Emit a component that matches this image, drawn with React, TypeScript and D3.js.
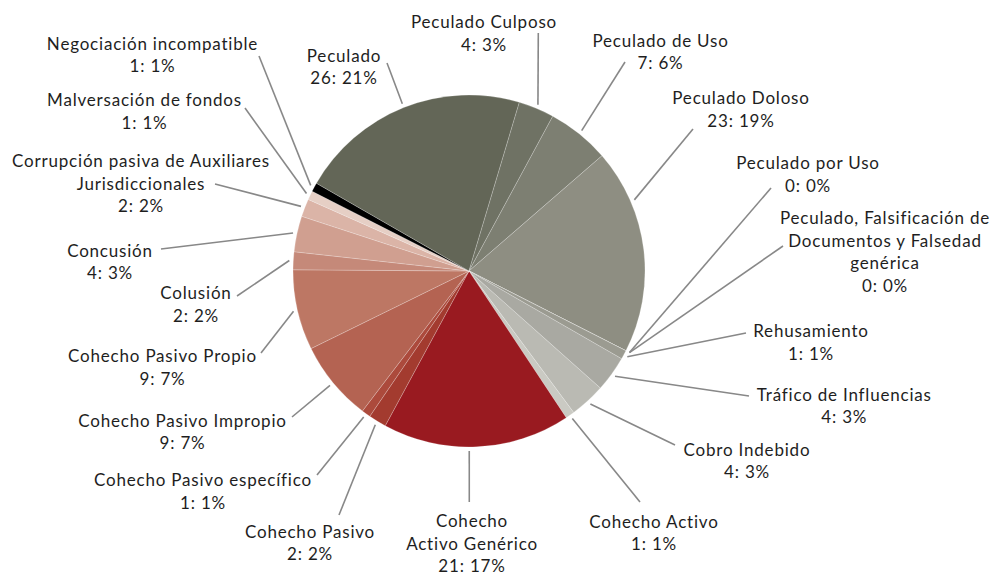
import React from "react";
import * as d3 from "d3";

// ---- data (clockwise order, starting at Cobro Indebido) ----
const categories = [
  "Cobro Indebido",
  "Cohecho Activo",
  "Cohecho Activo Genérico",
  "Cohecho Pasivo",
  "Cohecho Pasivo específico",
  "Cohecho Pasivo Impropio",
  "Cohecho Pasivo Propio",
  "Colusión",
  "Concusión",
  "Corrupción pasiva de Auxiliares Jurisdiccionales",
  "Malversación de fondos",
  "Negociación incompatible",
  "Peculado",
  "Peculado Culposo",
  "Peculado de Uso",
  "Peculado Doloso",
  "Peculado por Uso",
  "Peculado, Falsificación de Documentos y Falsedad genérica",
  "Rehusamiento",
  "Tráfico de Influencias",
];
const counts = [4, 1, 21, 2, 1, 9, 9, 2, 4, 2, 1, 1, 26, 4, 7, 23, 0, 0, 1, 4];

// ---- styling ----
const colors = [
  "#babab3", "#cacac3", "#991a20", "#a33b2f", "#ac4a3c", "#b46352", "#bd7764",
  "#c58979", "#d09f90", "#dbb4a7", "#e6cfc5", "#000000", "#636657", "#6f7264",
  "#7d7f72", "#8e8e82", "#959589", "#98988d", "#9b9b91", "#a9a9a2",
];

// label wrapping
const wraps: Record<string, string[]> = {
  "Cohecho Activo Genérico": ["Cohecho", "Activo Genérico"],
  "Corrupción pasiva de Auxiliares Jurisdiccionales": ["Corrupción pasiva de Auxiliares", "Jurisdiccionales"],
  "Peculado, Falsificación de Documentos y Falsedad genérica": ["Peculado, Falsificación de", "Documentos y Falsedad", "genérica"],
};

// label layout: [textX, firstBaseline, connectorX, connectorY, fraction of slice angle for connector]
const labelLayout: number[][] = [
  [747, 455.7, 675, 445, 0.5],
  [654, 527.7, 640, 502, 0.5],
  [472, 527, 469.3, 502, 0.54],
  [310, 537.7, 339, 515, 0.5],
  [203, 486, 317, 475, 0.5],
  [182.5, 426.7, 292, 417, 0.5],
  [162.5, 362.3, 261, 353, 0.5],
  [196, 299, 237, 296, 0.5],
  [110, 256.7, 161, 249, 0.5],
  [141, 167, 215, 184, 0.5],
  [144.5, 106, 245, 108, 0.5],
  [152.5, 49.5, 259, 56, 0.5],
  [344, 61.7, 387, 63, 0.5],
  [484, 28.3, 538.3, 33, 0.5],
  [660.5, 46.7, 625, 62, 0.5],
  [741, 104, 693, 129, 0.26],
  [808, 169, 771, 188, 0.5],
  [885, 224, 783, 246, 0.5],
  [811, 337.3, 746, 333, 0.5],
  [844.3, 400.7, 749, 396, 0.5],
];

const W = 991;
const H = 575;
const CX = 469;
const CY = 271;
const R = 176;
const START = (131.7 * Math.PI) / 180;
const LINE_H = 22.5;

export default function App() {
  const total = d3.sum(counts);
  const pie = d3
    .pie<number>()
    .sort(null)
    .value((d) => d)
    .startAngle(START)
    .endAngle(START + 2 * Math.PI);
  const arcs = pie(counts);
  const arcGen = d3.arc<d3.PieArcDatum<number>>().innerRadius(0).outerRadius(R);

  return (
    <svg
      width={W}
      height={H}
      style={{ position: "absolute", left: 0, top: 0, background: "#fff" }}
      fontFamily="Lato, sans-serif"
    >
      <g transform={`translate(${CX},${CY})`}>
        {arcs.map((a, i) => (
          <path
            key={i}
            d={arcGen(a) || ""}
            fill={colors[i]}
            stroke="#ffffff"
            strokeOpacity={0.35}
            strokeWidth={0.6}
          />
        ))}
      </g>
      {arcs.map((a, i) => {
        const [, , lx, ly, frac] = labelLayout[i];
        const ang = a.startAngle + frac * (a.endAngle - a.startAngle);
        const ex = CX + (R + 4) * Math.sin(ang);
        const ey = CY - (R + 4) * Math.cos(ang);
        return (
          <line key={"l" + i} x1={lx} y1={ly} x2={ex} y2={ey} stroke="#888" strokeWidth={1.6} />
        );
      })}
      {arcs.map((a, i) => {
        const [tx, ty] = labelLayout[i];
        const name = categories[i];
        const lines = [...(wraps[name] || [name]), `${counts[i]}: ${Math.round((counts[i] / total) * 100)}%`];
        return (
          <text
            key={"t" + i}
            x={tx}
            y={ty}
            textAnchor="middle"
            fontSize={17}
            letterSpacing={0.8}
            fill="#1e1e1e"
          >
            {lines.map((s, j) => (
              <tspan key={j} x={tx} y={ty + j * LINE_H}>
                {s}
              </tspan>
            ))}
          </text>
        );
      })}
    </svg>
  );
}
